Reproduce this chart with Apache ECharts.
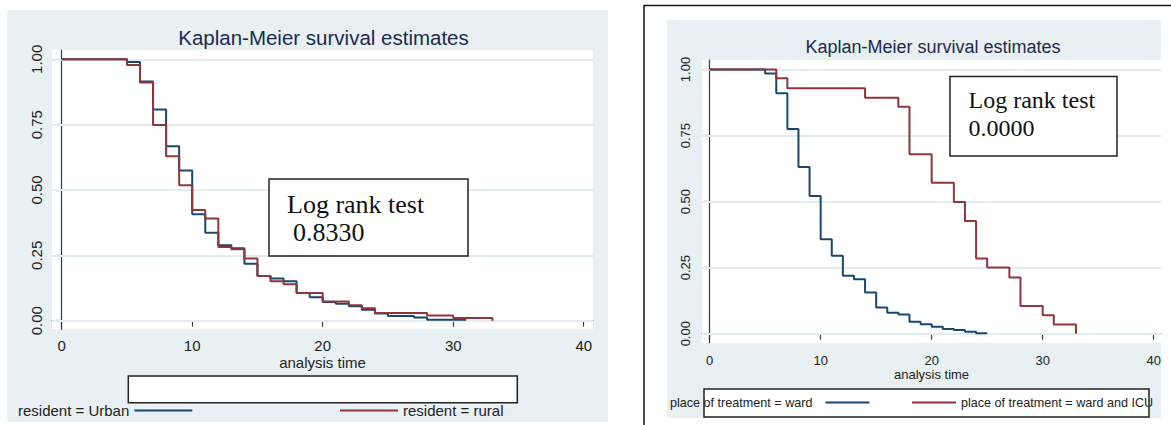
<!DOCTYPE html>
<html><head><meta charset="utf-8">
<script src="https://cdn.jsdelivr.net/npm/echarts@6/dist/echarts.min.js"></script>
<style>html,body{margin:0;padding:0;background:#fff}#c{width:1171px;height:425px}</style>
</head><body><div id="c"></div>
<script>
// ---- data ----
const xTicks = [0, 10, 20, 30, 40];
const yTicks = [0, 0.25, 0.5, 0.75, 1];
const chartTitle = 'Kaplan-Meier survival estimates';
const xTitle = 'analysis time';

const urbanName = 'resident = Urban';
const urbanTime = [0,5,6,7,8,9,10,11,12,13,14,15,16,17,18,19,20,21,22,23,24,25,27,28,31];
const urbanSurv = [1,0.99,0.915,0.808,0.667,0.575,0.407,0.336,0.289,0.277,0.218,0.171,0.161,0.151,0.106,0.09,0.071,0.065,0.055,0.042,0.027,0.018,0.012,0.004,0.004];

const ruralName = 'resident = rural';
const ruralTime = [0,5,6,7,8,9,10,11,12,13,14,15,16,17,18,20,22,23,24,28,30,33];
const ruralSurv = [1,0.978,0.911,0.749,0.629,0.518,0.423,0.391,0.282,0.273,0.238,0.171,0.151,0.139,0.106,0.073,0.059,0.048,0.029,0.02,0.01,0];

const wardName = 'place of treatment = ward';
const wardTime = [0,5,6,7,8,9,10,11,12,13,14,15,16,17,18,19,20,21,22,23,24,25];
const wardSurv = [1,0.985,0.91,0.775,0.631,0.521,0.358,0.295,0.219,0.206,0.156,0.099,0.079,0.073,0.045,0.036,0.026,0.018,0.014,0.007,0.002,0.002];

const icuName = 'place of treatment = ward and ICU';
const icuTime = [0,6,7,14,17,18,20,22,23,24,25,27,28,30,31,33];
const icuSurv = [1,0.967,0.929,0.893,0.859,0.679,0.571,0.499,0.427,0.285,0.251,0.213,0.105,0.07,0.035,0];

const logRankLabel = 'Log rank test';
const logRankLeft = '0.8330';
const logRankRight = '0.0000';

// ---- styling ----
const BLUE = '#1a476f', RED = '#90353b';
const BG = '#e8f0f3', GRIDC = '#e2ebf0';
const SANS = '"Liberation Sans", Arial, sans-serif';
const SERIF = '"Liberation Serif", "Times New Roman", serif';
const AXC = '#3a3a3a';

function pairs(t, s) { return t.map((x, i) => [x, s[i]]); }

function xAxisCfg(gi, min, max, fs, lh, margin, gap) {
  return {
    type: 'value', gridIndex: gi, min: min, max: max,
    name: xTitle, nameLocation: 'middle', nameGap: gap, nameMoveOverlap: false,
    nameTextStyle: { color: '#222', fontSize: fs, lineHeight: lh, fontFamily: SANS },
    axisLine: { show: true, lineStyle: { color: AXC, width: 1.2 } },
    axisTick: { show: true, length: 6, customValues: xTicks, lineStyle: { color: AXC, width: 1.2 } },
    axisLabel: { customValues: xTicks, color: '#222', fontSize: fs, lineHeight: lh, fontFamily: SANS, margin: margin,
                 formatter: v => String(v) },
    splitLine: { show: false }
  };
}
function yAxisCfg(gi, min, max, fs, margin) {
  return {
    type: 'value', gridIndex: gi, min: min, max: max,
    axisLine: { show: true, lineStyle: { color: AXC, width: 1.2 } },
    axisTick: { show: true, length: 6, customValues: yTicks, lineStyle: { color: AXC, width: 1.2 } },
    axisLabel: { customValues: yTicks, rotate: 90, color: '#222', fontSize: fs, fontFamily: SANS, margin: margin,
                 formatter: v => v.toFixed(2) },
    splitLine: { show: false }
  };
}
function gridLines() {
  return { silent: true, symbol: ['none', 'none'], z: 1, label: { show: false },
           lineStyle: { color: GRIDC, width: 2, type: 'solid' }, emphasis: { disabled: true },
           data: yTicks.map(v => ({ yAxis: v })) };
}
function curve(name, t, s, color, gi, withGrid) {
  const o = { name: name, type: 'line', step: 'end', xAxisIndex: gi, yAxisIndex: gi,
              data: pairs(t, s), symbol: 'none', z: 2, animation: false,
              lineStyle: { color: color, width: 2 }, itemStyle: { color: color } };
  if (withGrid) o.markLine = gridLines();
  return o;
}
function legendCfg(name, left, top, align, fs, w, pad) {
  return { data: [name], left: left, top: top, align: align, orient: 'horizontal', padding: 0,
           icon: 'rect', itemWidth: w, itemHeight: 2, selectedMode: false,
           textStyle: { color: '#222', fontSize: fs, fontFamily: SANS, padding: pad || 0 } };
}

const chart = echarts.init(document.getElementById('c'), null, { renderer: 'svg' });
chart.setOption({
  animation: false,
  backgroundColor: '#ffffff',
  grid: [
    { left: 52, top: 50, width: 541, height: 279.3, show: true, backgroundColor: '#ffffff', borderWidth: 0 },
    { left: 702, top: 60, width: 459, height: 282.7, show: true, backgroundColor: '#ffffff', borderWidth: 0 }
  ],
  xAxis: [ xAxisCfg(0, -0.743, 40.71, 15, 13, 10, 27), xAxisCfg(1, -0.69, 40.66, 13, 11, 12, 25.8) ],
  yAxis: [ yAxisCfg(0, -0.033, 1.0356, 15, 8.5), yAxisCfg(1, -0.034, 1.036, 13, 10) ],
  legend: [
    legendCfg(urbanName, 18, 403, 'right', 15, 58),
    legendCfg(ruralName, 340, 403, 'left', 15, 58),
    legendCfg(wardName, 670, 396, 'right', 12.6, 44, [0, 8, 0, 0]),
    legendCfg(icuName, 912, 396, 'left', 12.6, 44)
  ],
  series: [
    curve(urbanName, urbanTime, urbanSurv, BLUE, 0, true),
    curve(ruralName, ruralTime, ruralSurv, RED, 0, false),
    curve(wardName, wardTime, wardSurv, BLUE, 1, true),
    curve(icuName, icuTime, icuSurv, RED, 1, false)
  ],
  graphic: [
    // panel backgrounds
    { type: 'rect', z: -10, silent: true, shape: { x: 7, y: 10, width: 601, height: 412 }, style: { fill: BG } },
    { type: 'rect', z: -10, silent: true, shape: { x: 667, y: 20, width: 494, height: 398 }, style: { fill: BG } },
    // right frame
    { type: 'rect', z: 20, silent: true, shape: { x: 644, y: 5.5, width: 640, height: 500 },
      style: { fill: 'none', stroke: '#111', lineWidth: 1.5 } },
    // titles
    { type: 'text', z: 10, silent: true, x: 323.5, y: 37,
      style: { text: chartTitle, textAlign: 'center', textVerticalAlign: 'middle', fill: '#1c2a4f', fontSize: 20.5, fontFamily: SANS } },
    { type: 'text', z: 10, silent: true, x: 933, y: 47,
      style: { text: chartTitle, textAlign: 'center', textVerticalAlign: 'middle', fill: '#1c2a4f', fontSize: 18, fontFamily: SANS } },
    // legend boxes
    { type: 'rect', z: 1, silent: true, shape: { x: 128.3, y: 376, width: 389, height: 26.7 },
      style: { fill: '#fff', stroke: '#222', lineWidth: 1.5 } },
    { type: 'rect', z: 1, silent: true, shape: { x: 704, y: 389, width: 445, height: 28 },
      style: { fill: '#fff', stroke: '#222', lineWidth: 1.5 } },
    // log rank boxes
    { type: 'rect', z: 10, silent: true, shape: { x: 269, y: 179, width: 199, height: 77 },
      style: { fill: '#fff', stroke: '#222', lineWidth: 1.5 } },
    { type: 'text', z: 11, silent: true, x: 287, y: 204,
      style: { text: logRankLabel, textVerticalAlign: 'middle', fill: '#111', fontSize: 26, fontFamily: SERIF } },
    { type: 'text', z: 11, silent: true, x: 293, y: 232,
      style: { text: logRankLeft, textVerticalAlign: 'middle', fill: '#111', fontSize: 26, fontFamily: SERIF } },
    { type: 'rect', z: 10, silent: true, shape: { x: 950, y: 76.5, width: 167, height: 79.5 },
      style: { fill: '#fff', stroke: '#222', lineWidth: 1.5 } },
    { type: 'text', z: 11, silent: true, x: 968.5, y: 100,
      style: { text: logRankLabel, textVerticalAlign: 'middle', fill: '#111', fontSize: 24, fontFamily: SERIF } },
    { type: 'text', z: 11, silent: true, x: 968.5, y: 128,
      style: { text: logRankRight, textVerticalAlign: 'middle', fill: '#111', fontSize: 24, fontFamily: SERIF } }
  ]
});
</script></body></html>
